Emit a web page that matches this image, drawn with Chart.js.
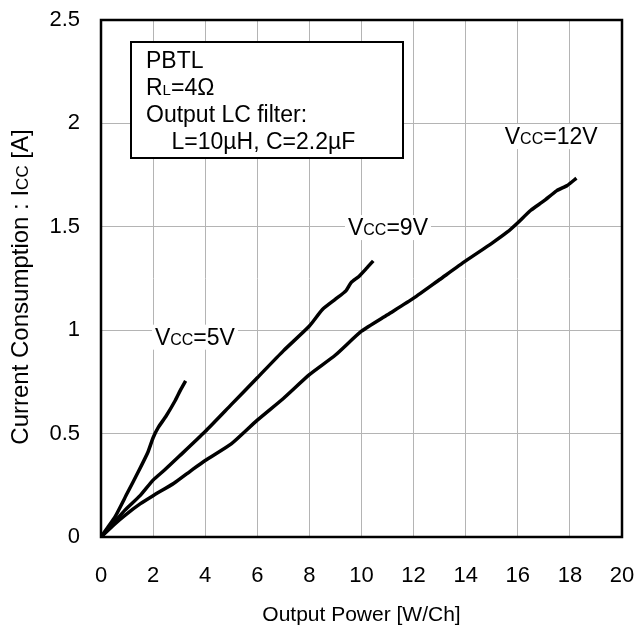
<!DOCTYPE html>
<html>
<head>
<meta charset="utf-8">
<script src="https://cdn.jsdelivr.net/npm/chart.js@4.4.0/dist/chart.umd.min.js"></script>
<style>
  html, body { margin: 0; padding: 0; background: #fff; }
  #wrap { width: 635px; height: 630px; }
</style>
</head>
<body>
<div id="wrap"><canvas id="chart" width="635" height="630"></canvas></div>
<script>
// data: [output power W/Ch, current A]
const vcc5 = [
  [0, 0], [0.25, 0.045], [0.55, 0.1], [1.0, 0.21], [1.45, 0.32], [1.8, 0.41],
  [2.0, 0.48], [2.2, 0.53], [2.5, 0.585], [2.85, 0.66], [3.05, 0.71], [3.25, 0.755]
];
const vcc9 = [
  [0, 0], [0.5, 0.07], [0.92, 0.13], [1.5, 0.2], [2.0, 0.275], [2.45, 0.325],
  [3.0, 0.39], [4.0, 0.51], [5.0, 0.64], [6.0, 0.77], [7.0, 0.9], [8.0, 1.02],
  [8.5, 1.1], [9.0, 1.15], [9.4, 1.19], [9.6, 1.23], [9.9, 1.26], [10.2, 1.3], [10.45, 1.335]
];
const vcc12 = [
  [0, 0], [0.5, 0.06], [0.92, 0.105], [1.5, 0.16], [2.0, 0.2], [2.8, 0.26],
  [3.5, 0.325], [4.0, 0.37], [5.0, 0.45], [6.0, 0.565], [7.0, 0.67], [8.0, 0.785],
  [9.0, 0.88], [10.0, 0.995], [11.0, 1.075], [12.0, 1.155], [13.0, 1.245], [14.0, 1.335],
  [15.0, 1.42], [15.6, 1.475], [16.0, 1.52], [16.5, 1.58], [17.0, 1.625], [17.5, 1.675],
  [17.9, 1.7], [18.25, 1.735]
];
// curve labels: left edge / baseline in data units
const curveLabels = [
  { text: "V", sub: "CC", rest: "=5V", x: 2.07, y: 0.93 },
  { text: "V", sub: "CC", rest: "=9V", x: 9.48, y: 1.46 },
  { text: "V", sub: "CC", rest: "=12V", x: 15.5, y: 1.9 }
];
const noteLines = ["PBTL", "R|L|=4Ω", "Output LC filter:", "    L=10µH, C=2.2µF"];
const xTicks = { min: 0, max: 20, step: 2 };
const yTicks = { min: 0, max: 2.5, step: 0.5 };

const FONT = "Liberation Sans, Arial, sans-serif";

function toPts(arr) {
  return arr.map(p => ({ x: p[0], y: p[1] }));
}

// draws main text + subscript + rest on one baseline, returns width
function subText(ctx, main, sub, rest, x, y, size, subSize, measureOnly) {
  ctx.font = size + "px " + FONT;
  const w1 = ctx.measureText(main).width;
  ctx.font = subSize + "px " + FONT;
  const w2 = ctx.measureText(sub).width;
  ctx.font = size + "px " + FONT;
  const w3 = ctx.measureText(rest).width;
  if (!measureOnly) {
    ctx.textBaseline = "alphabetic";
    ctx.textAlign = "left";
    ctx.fillText(main, x, y);
    ctx.font = subSize + "px " + FONT;
    ctx.fillText(sub, x + w1, y);
    ctx.font = size + "px " + FONT;
    ctx.fillText(rest, x + w1 + w2, y);
  }
  return w1 + w2 + w3;
}

const decor = {
  id: "decor",
  afterDatasetsDraw(chart) {
    const ctx = chart.ctx;
    const a = chart.chartArea;
    const xs = chart.scales.x, ys = chart.scales.y;
    ctx.save();
    ctx.fillStyle = "#000";

    // curve labels with white background
    curveLabels.forEach(l => {
      const px = xs.getPixelForValue(l.x);
      const py = ys.getPixelForValue(l.y);
      const w = subText(ctx, l.text, l.sub, l.rest, 0, 0, 23, 16, true);
      ctx.fillStyle = "#fff";
      ctx.fillRect(px - 3, py - 20, w + 6, 25);
      ctx.fillStyle = "#000";
      subText(ctx, l.text, l.sub, l.rest, px, py, 23, 16, false);
    });

    // note box
    const bx = 131, by = 42, bw = 272, bh = 116;
    ctx.fillStyle = "#fff";
    ctx.fillRect(bx, by, bw, bh);
    ctx.strokeStyle = "#000";
    ctx.lineWidth = 2;
    ctx.strokeRect(bx, by, bw, bh);
    ctx.fillStyle = "#000";
    noteLines.forEach((ln, i) => {
      const ty = by + 26 + i * 27;
      const parts = ln.split("|");
      if (parts.length === 3) {
        subText(ctx, parts[0], parts[1], parts[2], bx + 15, ty, 23, 15, false);
      } else {
        ctx.font = "23px " + FONT;
        ctx.textAlign = "left";
        ctx.textBaseline = "alphabetic";
        ctx.fillText(ln, bx + 15, ty);
      }
    });

    // plot frame
    ctx.strokeStyle = "#000";
    ctx.lineWidth = 2.5;
    ctx.strokeRect(a.left, a.top, a.right - a.left, a.bottom - a.top);

    // axis titles
    ctx.fillStyle = "#000";
    ctx.font = "21px " + FONT;
    ctx.textAlign = "center";
    ctx.textBaseline = "middle";
    ctx.fillText("Output Power [W/Ch]", (a.left + a.right) / 2, 615);

    ctx.translate(19, 287);
    ctx.rotate(-Math.PI / 2);
    const w = subText(ctx, "Current Consumption : I", "CC", " [A]", 0, 0, 24, 17, true);
    subText(ctx, "Current Consumption : I", "CC", " [A]", -w / 2, 9, 24, 17, false);
    ctx.restore();
  }
};

function lineSet(data) {
  return {
    data: toPts(data),
    borderColor: "#000",
    borderWidth: 3.5,
    pointRadius: 0,
    tension: 0.2,
    fill: false
  };
}

new Chart(document.getElementById("chart").getContext("2d"), {
  type: "line",
  data: { datasets: [lineSet(vcc5), lineSet(vcc9), lineSet(vcc12)] },
  options: {
    responsive: false,
    animation: false,
    layout: { padding: { top: 20, right: 13, left: 0, bottom: 0 } },
    plugins: { legend: { display: false }, tooltip: { enabled: false } },
    scales: {
      x: {
        type: "linear",
        min: xTicks.min, max: xTicks.max,
        ticks: { stepSize: xTicks.step, color: "#000", padding: 26, font: { family: FONT, size: 22 }, callback: v => String(v) },
        grid: { color: "#b4b4b4", lineWidth: 1, drawTicks: false },
        border: { display: false },
        afterFit(s) { s.height = 93; s.paddingLeft = 0; s.paddingRight = 0; }
      },
      y: {
        type: "linear",
        min: yTicks.min, max: yTicks.max,
        ticks: { stepSize: yTicks.step, color: "#000", padding: 21, font: { family: FONT, size: 22 }, callback: v => String(v) },
        grid: { color: "#b4b4b4", lineWidth: 1, drawTicks: false },
        border: { display: false },
        afterFit(s) { s.width = 101; s.paddingTop = 0; s.paddingBottom = 0; }
      }
    }
  },
  plugins: [decor]
});
</script>
</body>
</html>
